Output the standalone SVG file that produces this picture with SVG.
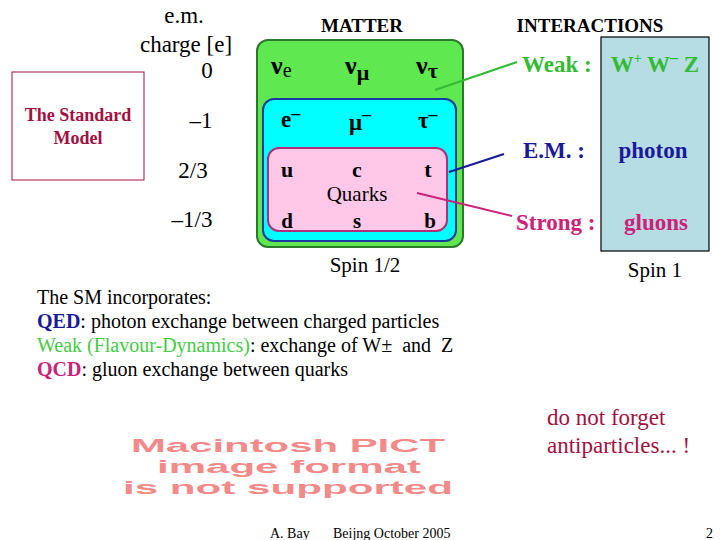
<svg xmlns="http://www.w3.org/2000/svg" width="720" height="540" viewBox="0 0 720 540">
<style>
.t{font-family:"Liberation Serif","Times New Roman",serif;}
.b{font-weight:bold;}
.c{text-anchor:middle;}
.grn{fill:#33bb33;}
.blu{fill:#1a1a99;}
.mag{fill:#cc2277;}
.crim{fill:#a3103f;}
.pict{font-family:"Liberation Sans",Arial,sans-serif;font-weight:bold;font-size:19px;fill:#f28a8a;text-anchor:middle;}
</style>
<rect width="720" height="540" fill="#ffffff"/>

<g id="charge-axis" class="t" font-size="23">
<text x="184" y="23" class="c">e.m.</text>
<text x="186" y="52" class="c">charge [e]</text>
<text x="207" y="78" class="c">0</text>
<text x="201" y="128" class="c">–1</text>
<text x="193" y="178" class="c">2/3</text>
<text x="192" y="227" class="c">–1/3</text>
</g>

<g id="standard-model">
<rect x="12" y="72" width="132" height="108" fill="#ffffff" stroke="#a3103f" stroke-width="1"/>
<text x="78" y="121" class="t b c crim" font-size="18">The Standard</text>
<text x="78" y="144" class="t b c crim" font-size="18">Model</text>
</g>

<g id="matter">
<text x="362" y="32" class="t b c" font-size="19">MATTER</text>
<rect x="257" y="40" width="206" height="207" rx="11" fill="#5fe84f" stroke="#2a7a2a" stroke-width="2"/>
<text class="t b" font-size="26" x="271" y="74">ν<tspan font-size="20" font-weight="normal" dy="3">e</tspan></text>
<text class="t b" font-size="26" x="345" y="74">ν<tspan font-size="22" dy="6">μ</tspan></text>
<text class="t b" font-size="26" x="416" y="74">ν<tspan font-size="22" dy="4">τ</tspan></text>
</g>

<g id="leptons">
<rect x="263" y="99" width="193" height="142" rx="11" fill="#00ffff" stroke="#1a3aa0" stroke-width="2"/>
<text class="t b" font-size="23" x="281" y="127">e<tspan dy="-8" font-size="18">–</tspan></text>
<text class="t b" font-size="23" x="349" y="130">μ<tspan dy="-10" font-size="18">–</tspan></text>
<text class="t b" font-size="23" x="418" y="128">τ<tspan dy="-8" font-size="18">–</tspan></text>
</g>

<g id="quarks">
<rect x="268" y="148" width="179" height="83" rx="11" fill="#ffc8e8" stroke="#b03078" stroke-width="2"/>
<text class="t b c" font-size="22" x="287" y="177">u</text>
<text class="t b c" font-size="22" x="357" y="177">c</text>
<text class="t b c" font-size="22" x="428" y="177">t</text>
<text class="t c" font-size="21" x="357" y="201">Quarks</text>
<text class="t b c" font-size="21" x="287" y="228">d</text>
<text class="t b c" font-size="21" x="357" y="228">s</text>
<text class="t b c" font-size="21" x="430" y="228">b</text>
</g>

<text x="365" y="272" class="t c" font-size="21">Spin 1/2</text>

<g id="interactions">
<text x="590" y="32" class="t b c" font-size="19">INTERACTIONS</text>
<rect x="601" y="37" width="108" height="214" fill="#b7dde4" stroke="#000000" stroke-width="1.2"/>
<text x="522" y="72" class="t b grn" font-size="23">Weak :</text>
<text x="655" y="72" class="t b c grn" font-size="23">W<tspan font-size="14" dy="-9">+</tspan><tspan dy="9"> W</tspan><tspan font-size="16" dy="-9">–</tspan><tspan dy="9"> Z</tspan></text>
<text x="523" y="158" class="t b blu" font-size="23">E.M. :</text>
<text x="653" y="158" class="t b c blu" font-size="23">photon</text>
<text x="516" y="230" class="t b mag" font-size="23">Strong :</text>
<text x="656" y="230" class="t b c mag" font-size="23">gluons</text>
<text x="655" y="277" class="t c" font-size="21">Spin 1</text>
</g>

<g id="connectors" fill="none" stroke-width="2">
<line x1="435" y1="90" x2="517" y2="62" stroke="#33bb33"/>
<line x1="449" y1="172" x2="504" y2="154" stroke="#1a1a99"/>
<line x1="417" y1="193" x2="512" y2="216" stroke="#cc2277"/>
</g>

<g id="notes" class="t" font-size="20">
<text x="37" y="304">The SM incorporates:</text>
<text x="37" y="328"><tspan class="b blu">QED</tspan>: photon exchange between charged particles</text>
<text x="37" y="352" xml:space="preserve"><tspan fill="#44cc44">Weak (Flavour-Dynamics)</tspan>: exchange of W±  and  Z</text>
<text x="37" y="376"><tspan class="b mag">QCD</tspan>: gluon exchange between quarks</text>
</g>

<g id="pict">
<text x="288" y="452" class="pict" textLength="314" lengthAdjust="spacingAndGlyphs">Macintosh PICT</text>
<text x="289" y="473" class="pict" textLength="264" lengthAdjust="spacingAndGlyphs">image format</text>
<text x="288" y="494" class="pict" textLength="330" lengthAdjust="spacingAndGlyphs">is not supported</text>
</g>

<g id="antiparticles" class="t crim" font-size="23">
<text x="547" y="425">do not forget</text>
<text x="547" y="453">antiparticles... !</text>
</g>

<g id="footer" class="t" font-size="14">
<text x="270" y="538">A. Bay</text>
<text x="333" y="538">Beijng October 2005</text>
<text x="706" y="538">2</text>
</g>
</svg>
